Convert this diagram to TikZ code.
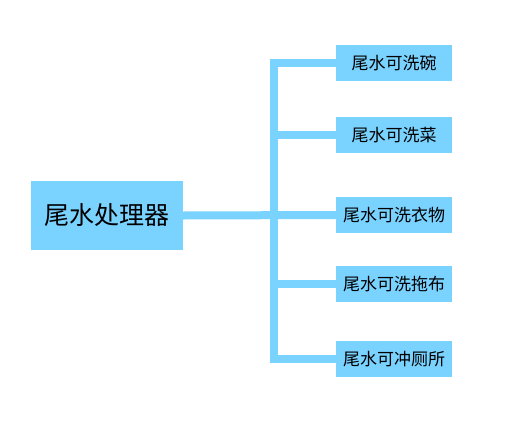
\documentclass[tikz,border=0pt]{standalone}
\usepackage{fontspec}
\newfontfamily\cjk{Noto Sans CJK SC}
\usepackage{tikz}
\usetikzlibrary{calc}

\definecolor{boxblue}{RGB}{122,210,255}

\begin{document}
\begin{tikzpicture}[x = 1pt, y = -1pt,
  mainbox/.style = {fill=boxblue, inner sep=0, minimum width=152pt, minimum height=69pt, font=\cjk\fontsize{25}{30}\selectfont},
  leafbox/.style = {fill=boxblue, inner sep=0, minimum width=116pt, minimum height=35.5pt, font=\cjk\fontsize{17}{20}\selectfont},
  trunk/.style = {draw=boxblue, line width=8pt}]
\useasboundingbox (0, 0) rectangle (507, 429);
\node[mainbox] (proc) at (107, 215.5) {尾水处理器};
\node[leafbox] (bowl) at (394, 63) {尾水可洗碗};
\node[leafbox] (veg) at (394, 135) {尾水可洗菜};
\node[leafbox] (cloth) at (394, 215) {尾水可洗衣物};
\node[leafbox] (mop) at (394, 284) {尾水可洗拖布};
\node[leafbox] (toilet) at (394, 359) {尾水可冲厕所};
\coordinate (jt) at (274, 215);
\path[trunk] (proc.east) -- (cloth.west);
\path[trunk] (bowl.west) -- (bowl.west -| jt) -- (toilet.west -| jt) -- (toilet.west);
\path[trunk] (veg.west) -- (veg.west -| jt);
\path[trunk] (mop.west) -- (mop.west -| jt);
\end{tikzpicture}
\end{document}
